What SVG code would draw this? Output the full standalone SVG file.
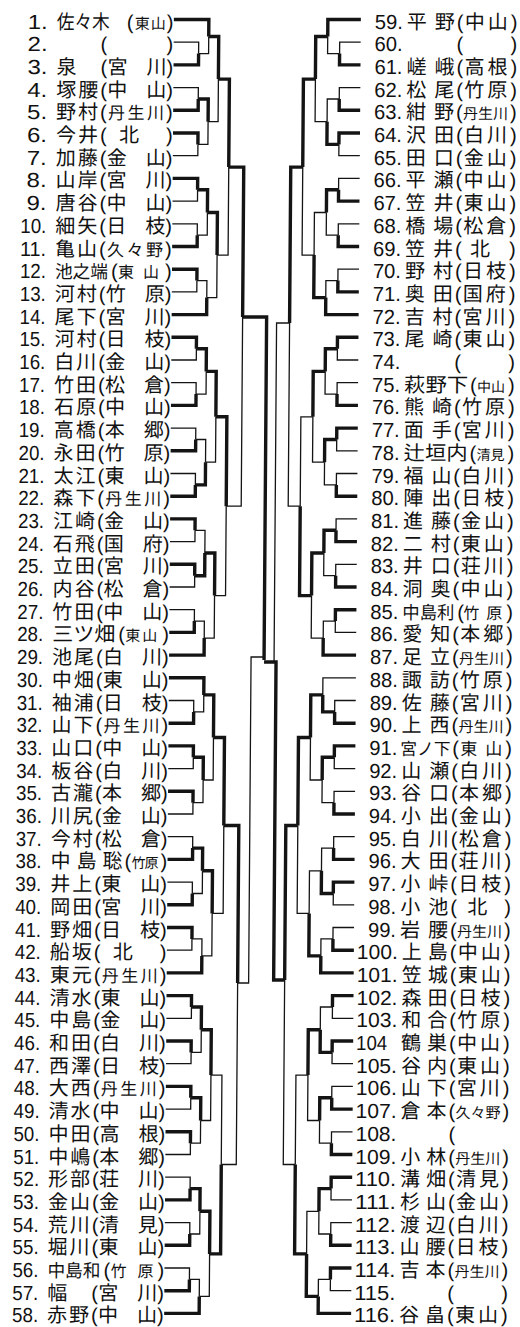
<svg xmlns="http://www.w3.org/2000/svg" width="520" height="1327" viewBox="0 0 520 1327">
<style>
.t{font-family:"Liberation Sans","Noto Sans CJK JP","Noto Sans CJK SC",sans-serif;font-size:20px;fill:#111}
.n{font-size:20.3px}
.s18{font-size:18px}.s17{font-size:17px}.s16{font-size:16px}.s15{font-size:15px}.s14{font-size:14px}
.w{fill:none;stroke:#141414;stroke-width:3.4}
.l{fill:none;stroke:#141414;stroke-width:1.3}
</style>
<rect width="520" height="1327" fill="#fff"/>
<g transform="matrix(1 0 -0.0075 1 0 0)">
<g id="entries-left">
<g id="e1" transform="translate(0 19.5)"><text class="t" y="9"><tspan class="n" x="28" textLength="20" lengthAdjust="spacingAndGlyphs">1.</tspan><tspan x="57" textLength="53" lengthAdjust="spacingAndGlyphs">佐々木</tspan><tspan x="127">(</tspan><tspan class="s15" x="135" textLength="31">東山</tspan><tspan x="167">)</tspan></text></g>
<g id="e2" transform="translate(0 42.2)"><text class="t" y="9"><tspan class="n" x="28" textLength="20" lengthAdjust="spacingAndGlyphs">2.</tspan><tspan x="101">(</tspan><tspan x="167">)</tspan></text></g>
<g id="e3" transform="translate(0 64.9)"><text class="t" y="9"><tspan class="n" x="28" textLength="20" lengthAdjust="spacingAndGlyphs">3.</tspan><tspan x="57">泉</tspan><tspan x="101">(</tspan><tspan x="108" textLength="59">宮川</tspan><tspan x="167">)</tspan></text></g>
<g id="e4" transform="translate(0 87.6)"><text class="t" y="9"><tspan class="n" x="28" textLength="20" lengthAdjust="spacingAndGlyphs">4.</tspan><tspan x="57" textLength="42">塚腰</tspan><tspan x="101">(</tspan><tspan x="108" textLength="59">中山</tspan><tspan x="167">)</tspan></text></g>
<g id="e5" transform="translate(0 110.3)"><text class="t" y="9"><tspan class="n" x="28" textLength="20" lengthAdjust="spacingAndGlyphs">5.</tspan><tspan x="57" textLength="42">野村</tspan><tspan x="101">(</tspan><tspan class="s17" x="109" textLength="56">丹生川</tspan><tspan x="167">)</tspan></text></g>
<g id="e6" transform="translate(0 133)"><text class="t" y="9"><tspan class="n" x="28" textLength="20" lengthAdjust="spacingAndGlyphs">6.</tspan><tspan x="57" textLength="42">今井</tspan><tspan x="101">(</tspan><tspan x="120">北</tspan><tspan x="167">)</tspan></text></g>
<g id="e7" transform="translate(0 155.7)"><text class="t" y="9"><tspan class="n" x="28" textLength="20" lengthAdjust="spacingAndGlyphs">7.</tspan><tspan x="57" textLength="42">加藤</tspan><tspan x="101">(</tspan><tspan x="108" textLength="59">金山</tspan><tspan x="167">)</tspan></text></g>
<g id="e8" transform="translate(0 178.4)"><text class="t" y="9"><tspan class="n" x="28" textLength="20" lengthAdjust="spacingAndGlyphs">8.</tspan><tspan x="57" textLength="42">山岸</tspan><tspan x="101">(</tspan><tspan x="108" textLength="59">宮川</tspan><tspan x="167">)</tspan></text></g>
<g id="e9" transform="translate(0 201.1)"><text class="t" y="9"><tspan class="n" x="28" textLength="20" lengthAdjust="spacingAndGlyphs">9.</tspan><tspan x="57" textLength="42">唐谷</tspan><tspan x="101">(</tspan><tspan x="108" textLength="59">中山</tspan><tspan x="167">)</tspan></text></g>
<g id="e10" transform="translate(0 223.8)"><text class="t" y="9"><tspan class="n" x="22" textLength="26" lengthAdjust="spacingAndGlyphs">10.</tspan><tspan x="57" textLength="42">細矢</tspan><tspan x="101">(</tspan><tspan x="108" textLength="59">日枝</tspan><tspan x="167">)</tspan></text></g>
<g id="e11" transform="translate(0 246.5)"><text class="t" y="9"><tspan class="n" x="22" textLength="26" lengthAdjust="spacingAndGlyphs">11.</tspan><tspan x="57" textLength="42">亀山</tspan><tspan x="101">(</tspan><tspan class="s17" x="109" textLength="56">久々野</tspan><tspan x="167">)</tspan></text></g>
<g id="e12" transform="translate(0 269.2)"><text class="t" y="9"><tspan class="n" x="22" textLength="26" lengthAdjust="spacingAndGlyphs">12.</tspan><tspan class="s18" x="57" textLength="53" lengthAdjust="spacingAndGlyphs">池之端</tspan><tspan x="113">(</tspan><tspan class="s16" x="120" textLength="41">東山</tspan><tspan x="167">)</tspan></text></g>
<g id="e13" transform="translate(0 291.9)"><text class="t" y="9"><tspan class="n" x="22" textLength="26" lengthAdjust="spacingAndGlyphs">13.</tspan><tspan x="57" textLength="42">河村</tspan><tspan x="101">(</tspan><tspan x="108" textLength="59">竹原</tspan><tspan x="167">)</tspan></text></g>
<g id="e14" transform="translate(0 314.6)"><text class="t" y="9"><tspan class="n" x="22" textLength="26" lengthAdjust="spacingAndGlyphs">14.</tspan><tspan x="57" textLength="42">尾下</tspan><tspan x="101">(</tspan><tspan x="108" textLength="59">宮川</tspan><tspan x="167">)</tspan></text></g>
<g id="e15" transform="translate(0 337.3)"><text class="t" y="9"><tspan class="n" x="22" textLength="26" lengthAdjust="spacingAndGlyphs">15.</tspan><tspan x="57" textLength="42">河村</tspan><tspan x="101">(</tspan><tspan x="108" textLength="59">日枝</tspan><tspan x="167">)</tspan></text></g>
<g id="e16" transform="translate(0 360)"><text class="t" y="9"><tspan class="n" x="22" textLength="26" lengthAdjust="spacingAndGlyphs">16.</tspan><tspan x="57" textLength="42">白川</tspan><tspan x="101">(</tspan><tspan x="108" textLength="59">金山</tspan><tspan x="167">)</tspan></text></g>
<g id="e17" transform="translate(0 382.7)"><text class="t" y="9"><tspan class="n" x="22" textLength="26" lengthAdjust="spacingAndGlyphs">17.</tspan><tspan x="57" textLength="42">竹田</tspan><tspan x="101">(</tspan><tspan x="108" textLength="59">松倉</tspan><tspan x="167">)</tspan></text></g>
<g id="e18" transform="translate(0 405.4)"><text class="t" y="9"><tspan class="n" x="22" textLength="26" lengthAdjust="spacingAndGlyphs">18.</tspan><tspan x="57" textLength="42">石原</tspan><tspan x="101">(</tspan><tspan x="108" textLength="59">中山</tspan><tspan x="167">)</tspan></text></g>
<g id="e19" transform="translate(0 428.1)"><text class="t" y="9"><tspan class="n" x="22" textLength="26" lengthAdjust="spacingAndGlyphs">19.</tspan><tspan x="57" textLength="42">高橋</tspan><tspan x="101">(</tspan><tspan x="108" textLength="59">本郷</tspan><tspan x="167">)</tspan></text></g>
<g id="e20" transform="translate(0 450.8)"><text class="t" y="9"><tspan class="n" x="22" textLength="26" lengthAdjust="spacingAndGlyphs">20.</tspan><tspan x="57" textLength="42">永田</tspan><tspan x="101">(</tspan><tspan x="108" textLength="59">竹原</tspan><tspan x="167">)</tspan></text></g>
<g id="e21" transform="translate(0 473.5)"><text class="t" y="9"><tspan class="n" x="22" textLength="26" lengthAdjust="spacingAndGlyphs">21.</tspan><tspan x="57" textLength="42">太江</tspan><tspan x="101">(</tspan><tspan x="108" textLength="59">東山</tspan><tspan x="167">)</tspan></text></g>
<g id="e22" transform="translate(0 496.2)"><text class="t" y="9"><tspan class="n" x="22" textLength="26" lengthAdjust="spacingAndGlyphs">22.</tspan><tspan x="57" textLength="42">森下</tspan><tspan x="101">(</tspan><tspan class="s17" x="109" textLength="56">丹生川</tspan><tspan x="167">)</tspan></text></g>
<g id="e23" transform="translate(0 518.9)"><text class="t" y="9"><tspan class="n" x="22" textLength="26" lengthAdjust="spacingAndGlyphs">23.</tspan><tspan x="57" textLength="42">江崎</tspan><tspan x="101">(</tspan><tspan x="108" textLength="59">金山</tspan><tspan x="167">)</tspan></text></g>
<g id="e24" transform="translate(0 541.6)"><text class="t" y="9"><tspan class="n" x="22" textLength="26" lengthAdjust="spacingAndGlyphs">24.</tspan><tspan x="57" textLength="42">石飛</tspan><tspan x="101">(</tspan><tspan x="108" textLength="59">国府</tspan><tspan x="167">)</tspan></text></g>
<g id="e25" transform="translate(0 564.3)"><text class="t" y="9"><tspan class="n" x="22" textLength="26" lengthAdjust="spacingAndGlyphs">25.</tspan><tspan x="57" textLength="42">立田</tspan><tspan x="101">(</tspan><tspan x="108" textLength="59">宮川</tspan><tspan x="167">)</tspan></text></g>
<g id="e26" transform="translate(0 587)"><text class="t" y="9"><tspan class="n" x="22" textLength="26" lengthAdjust="spacingAndGlyphs">26.</tspan><tspan x="57" textLength="42">内谷</tspan><tspan x="101">(</tspan><tspan x="108" textLength="59">松倉</tspan><tspan x="167">)</tspan></text></g>
<g id="e27" transform="translate(0 609.7)"><text class="t" y="9"><tspan class="n" x="22" textLength="26" lengthAdjust="spacingAndGlyphs">27.</tspan><tspan x="57" textLength="42">竹田</tspan><tspan x="101">(</tspan><tspan x="108" textLength="59">中山</tspan><tspan x="167">)</tspan></text></g>
<g id="e28" transform="translate(0 632.4)"><text class="t" y="9"><tspan class="n" x="22" textLength="26" lengthAdjust="spacingAndGlyphs">28.</tspan><tspan x="57" textLength="63" lengthAdjust="spacingAndGlyphs">三ツ畑</tspan><tspan x="123">(</tspan><tspan class="s15" x="130" textLength="32">東山</tspan><tspan x="167">)</tspan></text></g>
<g id="e29" transform="translate(0 655.1)"><text class="t" y="9"><tspan class="n" x="22" textLength="26" lengthAdjust="spacingAndGlyphs">29.</tspan><tspan x="57" textLength="42">池尾</tspan><tspan x="101">(</tspan><tspan x="108" textLength="59">白川</tspan><tspan x="167">)</tspan></text></g>
<g id="e30" transform="translate(0 677.8)"><text class="t" y="9"><tspan class="n" x="22" textLength="26" lengthAdjust="spacingAndGlyphs">30.</tspan><tspan x="57" textLength="42">中畑</tspan><tspan x="101">(</tspan><tspan x="108" textLength="59">東山</tspan><tspan x="167">)</tspan></text></g>
<g id="e31" transform="translate(0 700.5)"><text class="t" y="9"><tspan class="n" x="22" textLength="26" lengthAdjust="spacingAndGlyphs">31.</tspan><tspan x="57" textLength="42">袖浦</tspan><tspan x="101">(</tspan><tspan x="108" textLength="59">日枝</tspan><tspan x="167">)</tspan></text></g>
<g id="e32" transform="translate(0 723.2)"><text class="t" y="9"><tspan class="n" x="22" textLength="26" lengthAdjust="spacingAndGlyphs">32.</tspan><tspan x="57" textLength="42">山下</tspan><tspan x="101">(</tspan><tspan class="s17" x="109" textLength="56">丹生川</tspan><tspan x="167">)</tspan></text></g>
<g id="e33" transform="translate(0 745.9)"><text class="t" y="9"><tspan class="n" x="22" textLength="26" lengthAdjust="spacingAndGlyphs">33.</tspan><tspan x="57" textLength="42">山口</tspan><tspan x="101">(</tspan><tspan x="108" textLength="59">中山</tspan><tspan x="167">)</tspan></text></g>
<g id="e34" transform="translate(0 768.6)"><text class="t" y="9"><tspan class="n" x="22" textLength="26" lengthAdjust="spacingAndGlyphs">34.</tspan><tspan x="57" textLength="42">板谷</tspan><tspan x="101">(</tspan><tspan x="108" textLength="59">白川</tspan><tspan x="167">)</tspan></text></g>
<g id="e35" transform="translate(0 791.3)"><text class="t" y="9"><tspan class="n" x="22" textLength="26" lengthAdjust="spacingAndGlyphs">35.</tspan><tspan x="57" textLength="42">古瀧</tspan><tspan x="101">(</tspan><tspan x="108" textLength="59">本郷</tspan><tspan x="167">)</tspan></text></g>
<g id="e36" transform="translate(0 814)"><text class="t" y="9"><tspan class="n" x="22" textLength="26" lengthAdjust="spacingAndGlyphs">36.</tspan><tspan x="57" textLength="42">川尻</tspan><tspan x="101">(</tspan><tspan x="108" textLength="59">金山</tspan><tspan x="167">)</tspan></text></g>
<g id="e37" transform="translate(0 836.7)"><text class="t" y="9"><tspan class="n" x="22" textLength="26" lengthAdjust="spacingAndGlyphs">37.</tspan><tspan x="57" textLength="42">今村</tspan><tspan x="101">(</tspan><tspan x="108" textLength="59">松倉</tspan><tspan x="167">)</tspan></text></g>
<g id="e38" transform="translate(0 859.4)"><text class="t" y="9"><tspan class="n" x="22" textLength="26" lengthAdjust="spacingAndGlyphs">38.</tspan><tspan x="57" textLength="72">中島聡</tspan><tspan x="131">(</tspan><tspan class="s14" x="138" textLength="27">竹原</tspan><tspan x="167">)</tspan></text></g>
<g id="e39" transform="translate(0 882.1)"><text class="t" y="9"><tspan class="n" x="22" textLength="26" lengthAdjust="spacingAndGlyphs">39.</tspan><tspan x="57" textLength="42">井上</tspan><tspan x="101">(</tspan><tspan x="108" textLength="59">東山</tspan><tspan x="167">)</tspan></text></g>
<g id="e40" transform="translate(0 904.8)"><text class="t" y="9"><tspan class="n" x="22" textLength="26" lengthAdjust="spacingAndGlyphs">40.</tspan><tspan x="57" textLength="42">岡田</tspan><tspan x="101">(</tspan><tspan x="108" textLength="59">宮川</tspan><tspan x="167">)</tspan></text></g>
<g id="e41" transform="translate(0 927.5)"><text class="t" y="9"><tspan class="n" x="22" textLength="26" lengthAdjust="spacingAndGlyphs">41.</tspan><tspan x="57" textLength="42">野畑</tspan><tspan x="101">(</tspan><tspan x="108" textLength="59">日枝</tspan><tspan x="167">)</tspan></text></g>
<g id="e42" transform="translate(0 950.2)"><text class="t" y="9"><tspan class="n" x="22" textLength="26" lengthAdjust="spacingAndGlyphs">42.</tspan><tspan x="57" textLength="42">船坂</tspan><tspan x="101">(</tspan><tspan x="120">北</tspan><tspan x="167">)</tspan></text></g>
<g id="e43" transform="translate(0 972.9)"><text class="t" y="9"><tspan class="n" x="22" textLength="26" lengthAdjust="spacingAndGlyphs">43.</tspan><tspan x="57" textLength="42">東元</tspan><tspan x="101">(</tspan><tspan class="s17" x="109" textLength="56">丹生川</tspan><tspan x="167">)</tspan></text></g>
<g id="e44" transform="translate(0 995.6)"><text class="t" y="9"><tspan class="n" x="22" textLength="26" lengthAdjust="spacingAndGlyphs">44.</tspan><tspan x="57" textLength="42">清水</tspan><tspan x="101">(</tspan><tspan x="108" textLength="59">東山</tspan><tspan x="167">)</tspan></text></g>
<g id="e45" transform="translate(0 1018.3)"><text class="t" y="9"><tspan class="n" x="22" textLength="26" lengthAdjust="spacingAndGlyphs">45.</tspan><tspan x="57" textLength="42">中島</tspan><tspan x="101">(</tspan><tspan x="108" textLength="59">金山</tspan><tspan x="167">)</tspan></text></g>
<g id="e46" transform="translate(0 1041)"><text class="t" y="9"><tspan class="n" x="22" textLength="26" lengthAdjust="spacingAndGlyphs">46.</tspan><tspan x="57" textLength="42">和田</tspan><tspan x="101">(</tspan><tspan x="108" textLength="59">白川</tspan><tspan x="167">)</tspan></text></g>
<g id="e47" transform="translate(0 1063.7)"><text class="t" y="9"><tspan class="n" x="22" textLength="26" lengthAdjust="spacingAndGlyphs">47.</tspan><tspan x="57" textLength="42">西澤</tspan><tspan x="101">(</tspan><tspan x="108" textLength="59">日枝</tspan><tspan x="167">)</tspan></text></g>
<g id="e48" transform="translate(0 1086.4)"><text class="t" y="9"><tspan class="n" x="22" textLength="26" lengthAdjust="spacingAndGlyphs">48.</tspan><tspan x="57" textLength="42">大西</tspan><tspan x="101">(</tspan><tspan class="s17" x="109" textLength="56">丹生川</tspan><tspan x="167">)</tspan></text></g>
<g id="e49" transform="translate(0 1109.1)"><text class="t" y="9"><tspan class="n" x="22" textLength="26" lengthAdjust="spacingAndGlyphs">49.</tspan><tspan x="57" textLength="42">清水</tspan><tspan x="101">(</tspan><tspan x="108" textLength="59">中山</tspan><tspan x="167">)</tspan></text></g>
<g id="e50" transform="translate(0 1131.8)"><text class="t" y="9"><tspan class="n" x="22" textLength="26" lengthAdjust="spacingAndGlyphs">50.</tspan><tspan x="57" textLength="42">中田</tspan><tspan x="101">(</tspan><tspan x="108" textLength="59">高根</tspan><tspan x="167">)</tspan></text></g>
<g id="e51" transform="translate(0 1154.5)"><text class="t" y="9"><tspan class="n" x="22" textLength="26" lengthAdjust="spacingAndGlyphs">51.</tspan><tspan x="57" textLength="42">中嶋</tspan><tspan x="101">(</tspan><tspan x="108" textLength="59">本郷</tspan><tspan x="167">)</tspan></text></g>
<g id="e52" transform="translate(0 1177.2)"><text class="t" y="9"><tspan class="n" x="22" textLength="26" lengthAdjust="spacingAndGlyphs">52.</tspan><tspan x="57" textLength="42">形部</tspan><tspan x="101">(</tspan><tspan x="108" textLength="59">荘川</tspan><tspan x="167">)</tspan></text></g>
<g id="e53" transform="translate(0 1199.9)"><text class="t" y="9"><tspan class="n" x="22" textLength="26" lengthAdjust="spacingAndGlyphs">53.</tspan><tspan x="57" textLength="42">金山</tspan><tspan x="101">(</tspan><tspan x="108" textLength="59">金山</tspan><tspan x="167">)</tspan></text></g>
<g id="e54" transform="translate(0 1222.6)"><text class="t" y="9"><tspan class="n" x="22" textLength="26" lengthAdjust="spacingAndGlyphs">54.</tspan><tspan x="57" textLength="42">荒川</tspan><tspan x="101">(</tspan><tspan x="108" textLength="59">清見</tspan><tspan x="167">)</tspan></text></g>
<g id="e55" transform="translate(0 1245.3)"><text class="t" y="9"><tspan class="n" x="22" textLength="26" lengthAdjust="spacingAndGlyphs">55.</tspan><tspan x="57" textLength="42">堀川</tspan><tspan x="101">(</tspan><tspan x="108" textLength="59">東山</tspan><tspan x="167">)</tspan></text></g>
<g id="e56" transform="translate(0 1268)"><text class="t" y="9"><tspan class="n" x="22" textLength="26" lengthAdjust="spacingAndGlyphs">56.</tspan><tspan class="s18" x="57" textLength="53" lengthAdjust="spacingAndGlyphs">中島和</tspan><tspan x="113">(</tspan><tspan class="s16" x="120" textLength="43">竹原</tspan><tspan x="167">)</tspan></text></g>
<g id="e57" transform="translate(0 1290.7)"><text class="t" y="9"><tspan class="n" x="22" textLength="26" lengthAdjust="spacingAndGlyphs">57.</tspan><tspan x="57">幅</tspan><tspan x="101">(</tspan><tspan x="108" textLength="59">宮川</tspan><tspan x="167">)</tspan></text></g>
<g id="e58" transform="translate(0 1313.4)"><text class="t" y="9"><tspan class="n" x="22" textLength="26" lengthAdjust="spacingAndGlyphs">58.</tspan><tspan x="57" textLength="42">赤野</tspan><tspan x="101">(</tspan><tspan x="108" textLength="59">中山</tspan><tspan x="167">)</tspan></text></g>
</g>
<g id="entries-right">
<g id="e59" transform="translate(0 19.5)"><text class="t" y="9"><tspan class="n" x="375" textLength="28" lengthAdjust="spacingAndGlyphs">59.</tspan><tspan x="407" textLength="48">平野</tspan><tspan x="457">(</tspan><tspan x="465" textLength="43">中山</tspan><tspan x="511">)</tspan></text></g>
<g id="e60" transform="translate(0 42.2)"><text class="t" y="9"><tspan class="n" x="375" textLength="28" lengthAdjust="spacingAndGlyphs">60.</tspan><tspan x="457">(</tspan><tspan x="511">)</tspan></text></g>
<g id="e61" transform="translate(0 64.9)"><text class="t" y="9"><tspan class="n" x="375" textLength="28" lengthAdjust="spacingAndGlyphs">61.</tspan><tspan x="407" textLength="48">嵯峨</tspan><tspan x="457">(</tspan><tspan x="465" textLength="43">高根</tspan><tspan x="511">)</tspan></text></g>
<g id="e62" transform="translate(0 87.6)"><text class="t" y="9"><tspan class="n" x="375" textLength="28" lengthAdjust="spacingAndGlyphs">62.</tspan><tspan x="407" textLength="48">松尾</tspan><tspan x="457">(</tspan><tspan x="465" textLength="43">竹原</tspan><tspan x="511">)</tspan></text></g>
<g id="e63" transform="translate(0 110.3)"><text class="t" y="9"><tspan class="n" x="375" textLength="28" lengthAdjust="spacingAndGlyphs">63.</tspan><tspan x="407" textLength="48">紺野</tspan><tspan x="457">(</tspan><tspan class="s15" x="464" textLength="45">丹生川</tspan><tspan x="511">)</tspan></text></g>
<g id="e64" transform="translate(0 133)"><text class="t" y="9"><tspan class="n" x="375" textLength="28" lengthAdjust="spacingAndGlyphs">64.</tspan><tspan x="407" textLength="48">沢田</tspan><tspan x="457">(</tspan><tspan x="465" textLength="43">白川</tspan><tspan x="511">)</tspan></text></g>
<g id="e65" transform="translate(0 155.7)"><text class="t" y="9"><tspan class="n" x="375" textLength="28" lengthAdjust="spacingAndGlyphs">65.</tspan><tspan x="407" textLength="48">田口</tspan><tspan x="457">(</tspan><tspan x="465" textLength="43">金山</tspan><tspan x="511">)</tspan></text></g>
<g id="e66" transform="translate(0 178.4)"><text class="t" y="9"><tspan class="n" x="375" textLength="28" lengthAdjust="spacingAndGlyphs">66.</tspan><tspan x="407" textLength="48">平瀬</tspan><tspan x="457">(</tspan><tspan x="465" textLength="43">中山</tspan><tspan x="511">)</tspan></text></g>
<g id="e67" transform="translate(0 201.1)"><text class="t" y="9"><tspan class="n" x="375" textLength="28" lengthAdjust="spacingAndGlyphs">67.</tspan><tspan x="407" textLength="48">笠井</tspan><tspan x="457">(</tspan><tspan x="465" textLength="43">東山</tspan><tspan x="511">)</tspan></text></g>
<g id="e68" transform="translate(0 223.8)"><text class="t" y="9"><tspan class="n" x="375" textLength="28" lengthAdjust="spacingAndGlyphs">68.</tspan><tspan x="407" textLength="48">橋場</tspan><tspan x="457">(</tspan><tspan x="465" textLength="43">松倉</tspan><tspan x="511">)</tspan></text></g>
<g id="e69" transform="translate(0 246.5)"><text class="t" y="9"><tspan class="n" x="375" textLength="28" lengthAdjust="spacingAndGlyphs">69.</tspan><tspan x="407" textLength="48">笠井</tspan><tspan x="457">(</tspan><tspan x="472">北</tspan><tspan x="511">)</tspan></text></g>
<g id="e70" transform="translate(0 269.2)"><text class="t" y="9"><tspan class="n" x="375" textLength="28" lengthAdjust="spacingAndGlyphs">70.</tspan><tspan x="407" textLength="48">野村</tspan><tspan x="457">(</tspan><tspan x="465" textLength="43">日枝</tspan><tspan x="511">)</tspan></text></g>
<g id="e71" transform="translate(0 291.9)"><text class="t" y="9"><tspan class="n" x="375" textLength="28" lengthAdjust="spacingAndGlyphs">71.</tspan><tspan x="407" textLength="48">奥田</tspan><tspan x="457">(</tspan><tspan x="465" textLength="43">国府</tspan><tspan x="511">)</tspan></text></g>
<g id="e72" transform="translate(0 314.6)"><text class="t" y="9"><tspan class="n" x="375" textLength="28" lengthAdjust="spacingAndGlyphs">72.</tspan><tspan x="407" textLength="48">吉村</tspan><tspan x="457">(</tspan><tspan x="465" textLength="43">宮川</tspan><tspan x="511">)</tspan></text></g>
<g id="e73" transform="translate(0 337.3)"><text class="t" y="9"><tspan class="n" x="375" textLength="28" lengthAdjust="spacingAndGlyphs">73.</tspan><tspan x="407" textLength="48">尾崎</tspan><tspan x="457">(</tspan><tspan x="465" textLength="43">東山</tspan><tspan x="511">)</tspan></text></g>
<g id="e74" transform="translate(0 360)"><text class="t" y="9"><tspan class="n" x="375" textLength="28" lengthAdjust="spacingAndGlyphs">74.</tspan><tspan x="457">(</tspan><tspan x="511">)</tspan></text></g>
<g id="e75" transform="translate(0 382.7)"><text class="t" y="9"><tspan class="n" x="375" textLength="28" lengthAdjust="spacingAndGlyphs">75.</tspan><tspan x="407" textLength="64" lengthAdjust="spacingAndGlyphs">萩野下</tspan><tspan x="473">(</tspan><tspan class="s14" x="480" textLength="28">中山</tspan><tspan x="511">)</tspan></text></g>
<g id="e76" transform="translate(0 405.4)"><text class="t" y="9"><tspan class="n" x="375" textLength="28" lengthAdjust="spacingAndGlyphs">76.</tspan><tspan x="407" textLength="48">熊崎</tspan><tspan x="457">(</tspan><tspan x="465" textLength="43">竹原</tspan><tspan x="511">)</tspan></text></g>
<g id="e77" transform="translate(0 428.1)"><text class="t" y="9"><tspan class="n" x="375" textLength="28" lengthAdjust="spacingAndGlyphs">77.</tspan><tspan x="407" textLength="48">面手</tspan><tspan x="457">(</tspan><tspan x="465" textLength="43">宮川</tspan><tspan x="511">)</tspan></text></g>
<g id="e78" transform="translate(0 450.8)"><text class="t" y="9"><tspan class="n" x="375" textLength="28" lengthAdjust="spacingAndGlyphs">78.</tspan><tspan x="407" textLength="64" lengthAdjust="spacingAndGlyphs">辻垣内</tspan><tspan x="473">(</tspan><tspan class="s14" x="480" textLength="28">清見</tspan><tspan x="511">)</tspan></text></g>
<g id="e79" transform="translate(0 473.5)"><text class="t" y="9"><tspan class="n" x="375" textLength="28" lengthAdjust="spacingAndGlyphs">79.</tspan><tspan x="407" textLength="48">福山</tspan><tspan x="457">(</tspan><tspan x="465" textLength="43">白川</tspan><tspan x="511">)</tspan></text></g>
<g id="e80" transform="translate(0 496.2)"><text class="t" y="9"><tspan class="n" x="375" textLength="28" lengthAdjust="spacingAndGlyphs">80.</tspan><tspan x="407" textLength="48">陣出</tspan><tspan x="457">(</tspan><tspan x="465" textLength="43">日枝</tspan><tspan x="511">)</tspan></text></g>
<g id="e81" transform="translate(0 518.9)"><text class="t" y="9"><tspan class="n" x="375" textLength="28" lengthAdjust="spacingAndGlyphs">81.</tspan><tspan x="407" textLength="48">進藤</tspan><tspan x="457">(</tspan><tspan x="465" textLength="43">金山</tspan><tspan x="511">)</tspan></text></g>
<g id="e82" transform="translate(0 541.6)"><text class="t" y="9"><tspan class="n" x="375" textLength="28" lengthAdjust="spacingAndGlyphs">82.</tspan><tspan x="407" textLength="48">二村</tspan><tspan x="457">(</tspan><tspan x="465" textLength="43">東山</tspan><tspan x="511">)</tspan></text></g>
<g id="e83" transform="translate(0 564.3)"><text class="t" y="9"><tspan class="n" x="375" textLength="28" lengthAdjust="spacingAndGlyphs">83.</tspan><tspan x="407" textLength="48">井口</tspan><tspan x="457">(</tspan><tspan x="465" textLength="43">荘川</tspan><tspan x="511">)</tspan></text></g>
<g id="e84" transform="translate(0 587)"><text class="t" y="9"><tspan class="n" x="375" textLength="28" lengthAdjust="spacingAndGlyphs">84.</tspan><tspan x="407" textLength="48">洞奥</tspan><tspan x="457">(</tspan><tspan x="465" textLength="43">中山</tspan><tspan x="511">)</tspan></text></g>
<g id="e85" transform="translate(0 609.7)"><text class="t" y="9"><tspan class="n" x="375" textLength="28" lengthAdjust="spacingAndGlyphs">85.</tspan><tspan class="s18" x="407" textLength="52" lengthAdjust="spacingAndGlyphs">中島利</tspan><tspan x="462">(</tspan><tspan class="s16" x="468" textLength="39">竹原</tspan><tspan x="511">)</tspan></text></g>
<g id="e86" transform="translate(0 632.4)"><text class="t" y="9"><tspan class="n" x="375" textLength="28" lengthAdjust="spacingAndGlyphs">86.</tspan><tspan x="407" textLength="48">愛知</tspan><tspan x="457">(</tspan><tspan x="465" textLength="43">本郷</tspan><tspan x="511">)</tspan></text></g>
<g id="e87" transform="translate(0 655.1)"><text class="t" y="9"><tspan class="n" x="375" textLength="28" lengthAdjust="spacingAndGlyphs">87.</tspan><tspan x="407" textLength="48">足立</tspan><tspan x="457">(</tspan><tspan class="s15" x="464" textLength="45">丹生川</tspan><tspan x="511">)</tspan></text></g>
<g id="e88" transform="translate(0 677.8)"><text class="t" y="9"><tspan class="n" x="375" textLength="28" lengthAdjust="spacingAndGlyphs">88.</tspan><tspan x="407" textLength="48">諏訪</tspan><tspan x="457">(</tspan><tspan x="465" textLength="43">竹原</tspan><tspan x="511">)</tspan></text></g>
<g id="e89" transform="translate(0 700.5)"><text class="t" y="9"><tspan class="n" x="375" textLength="28" lengthAdjust="spacingAndGlyphs">89.</tspan><tspan x="407" textLength="48">佐藤</tspan><tspan x="457">(</tspan><tspan x="465" textLength="43">宮川</tspan><tspan x="511">)</tspan></text></g>
<g id="e90" transform="translate(0 723.2)"><text class="t" y="9"><tspan class="n" x="375" textLength="28" lengthAdjust="spacingAndGlyphs">90.</tspan><tspan x="407" textLength="48">上西</tspan><tspan x="457">(</tspan><tspan class="s15" x="464" textLength="45">丹生川</tspan><tspan x="511">)</tspan></text></g>
<g id="e91" transform="translate(0 745.9)"><text class="t" y="9"><tspan class="n" x="375" textLength="28" lengthAdjust="spacingAndGlyphs">91.</tspan><tspan class="s17" x="406" textLength="50" lengthAdjust="spacingAndGlyphs">宮ノ下</tspan><tspan x="458">(</tspan><tspan class="s17" x="466" textLength="42">東山</tspan><tspan x="511">)</tspan></text></g>
<g id="e92" transform="translate(0 768.6)"><text class="t" y="9"><tspan class="n" x="375" textLength="28" lengthAdjust="spacingAndGlyphs">92.</tspan><tspan x="407" textLength="48">山瀬</tspan><tspan x="457">(</tspan><tspan x="465" textLength="43">白川</tspan><tspan x="511">)</tspan></text></g>
<g id="e93" transform="translate(0 791.3)"><text class="t" y="9"><tspan class="n" x="375" textLength="28" lengthAdjust="spacingAndGlyphs">93.</tspan><tspan x="407" textLength="48">谷口</tspan><tspan x="457">(</tspan><tspan x="465" textLength="43">本郷</tspan><tspan x="511">)</tspan></text></g>
<g id="e94" transform="translate(0 814)"><text class="t" y="9"><tspan class="n" x="375" textLength="28" lengthAdjust="spacingAndGlyphs">94.</tspan><tspan x="407" textLength="48">小出</tspan><tspan x="457">(</tspan><tspan x="465" textLength="43">金山</tspan><tspan x="511">)</tspan></text></g>
<g id="e95" transform="translate(0 836.7)"><text class="t" y="9"><tspan class="n" x="375" textLength="28" lengthAdjust="spacingAndGlyphs">95.</tspan><tspan x="407" textLength="48">白川</tspan><tspan x="457">(</tspan><tspan x="465" textLength="43">松倉</tspan><tspan x="511">)</tspan></text></g>
<g id="e96" transform="translate(0 859.4)"><text class="t" y="9"><tspan class="n" x="375" textLength="28" lengthAdjust="spacingAndGlyphs">96.</tspan><tspan x="407" textLength="48">大田</tspan><tspan x="457">(</tspan><tspan x="465" textLength="43">荘川</tspan><tspan x="511">)</tspan></text></g>
<g id="e97" transform="translate(0 882.1)"><text class="t" y="9"><tspan class="n" x="375" textLength="28" lengthAdjust="spacingAndGlyphs">97.</tspan><tspan x="407" textLength="48">小峠</tspan><tspan x="457">(</tspan><tspan x="465" textLength="43">日枝</tspan><tspan x="511">)</tspan></text></g>
<g id="e98" transform="translate(0 904.8)"><text class="t" y="9"><tspan class="n" x="375" textLength="28" lengthAdjust="spacingAndGlyphs">98.</tspan><tspan x="407" textLength="48">小池</tspan><tspan x="457">(</tspan><tspan x="474">北</tspan><tspan x="511">)</tspan></text></g>
<g id="e99" transform="translate(0 927.5)"><text class="t" y="9"><tspan class="n" x="375" textLength="28" lengthAdjust="spacingAndGlyphs">99.</tspan><tspan x="407" textLength="48">岩腰</tspan><tspan x="457">(</tspan><tspan class="s15" x="464" textLength="45">丹生川</tspan><tspan x="511">)</tspan></text></g>
<g id="e100" transform="translate(0 950.2)"><text class="t" y="9"><tspan class="n" x="364" textLength="41" lengthAdjust="spacingAndGlyphs">100.</tspan><tspan x="409" textLength="46">上島</tspan><tspan x="457">(</tspan><tspan x="465" textLength="43">中山</tspan><tspan x="511">)</tspan></text></g>
<g id="e101" transform="translate(0 972.9)"><text class="t" y="9"><tspan class="n" x="364" textLength="41" lengthAdjust="spacingAndGlyphs">101.</tspan><tspan x="409" textLength="46">笠城</tspan><tspan x="457">(</tspan><tspan x="465" textLength="43">東山</tspan><tspan x="511">)</tspan></text></g>
<g id="e102" transform="translate(0 995.6)"><text class="t" y="9"><tspan class="n" x="364" textLength="41" lengthAdjust="spacingAndGlyphs">102.</tspan><tspan x="409" textLength="46">森田</tspan><tspan x="457">(</tspan><tspan x="465" textLength="43">日枝</tspan><tspan x="511">)</tspan></text></g>
<g id="e103" transform="translate(0 1018.3)"><text class="t" y="9"><tspan class="n" x="364" textLength="41" lengthAdjust="spacingAndGlyphs">103.</tspan><tspan x="409" textLength="46">和合</tspan><tspan x="457">(</tspan><tspan x="465" textLength="43">竹原</tspan><tspan x="511">)</tspan></text></g>
<g id="e104" transform="translate(0 1041)"><text class="t" y="9"><tspan class="n" x="364" textLength="31" lengthAdjust="spacingAndGlyphs">104</tspan><tspan x="409" textLength="46">鶴巣</tspan><tspan x="457">(</tspan><tspan x="465" textLength="43">中山</tspan><tspan x="511">)</tspan></text></g>
<g id="e105" transform="translate(0 1063.7)"><text class="t" y="9"><tspan class="n" x="364" textLength="41" lengthAdjust="spacingAndGlyphs">105.</tspan><tspan x="409" textLength="46">谷内</tspan><tspan x="457">(</tspan><tspan x="465" textLength="43">東山</tspan><tspan x="511">)</tspan></text></g>
<g id="e106" transform="translate(0 1086.4)"><text class="t" y="9"><tspan class="n" x="364" textLength="41" lengthAdjust="spacingAndGlyphs">106.</tspan><tspan x="409" textLength="46">山下</tspan><tspan x="457">(</tspan><tspan x="465" textLength="43">宮川</tspan><tspan x="511">)</tspan></text></g>
<g id="e107" transform="translate(0 1109.1)"><text class="t" y="9"><tspan class="n" x="364" textLength="41" lengthAdjust="spacingAndGlyphs">107.</tspan><tspan x="409" textLength="46">倉本</tspan><tspan x="457">(</tspan><tspan class="s15" x="464" textLength="45">久々野</tspan><tspan x="511">)</tspan></text></g>
<g id="e108" transform="translate(0 1131.8)"><text class="t" y="9"><tspan class="n" x="364" textLength="41" lengthAdjust="spacingAndGlyphs">108.</tspan><tspan x="457">(</tspan></text></g>
<g id="e109" transform="translate(0 1154.5)"><text class="t" y="9"><tspan class="n" x="364" textLength="41" lengthAdjust="spacingAndGlyphs">109.</tspan><tspan x="409" textLength="46">小林</tspan><tspan x="457">(</tspan><tspan class="s15" x="464" textLength="45">丹生川</tspan><tspan x="511">)</tspan></text></g>
<g id="e110" transform="translate(0 1177.2)"><text class="t" y="9"><tspan class="n" x="364" textLength="41" lengthAdjust="spacingAndGlyphs">110.</tspan><tspan x="409" textLength="46">溝畑</tspan><tspan x="457">(</tspan><tspan x="465" textLength="43">清見</tspan><tspan x="511">)</tspan></text></g>
<g id="e111" transform="translate(0 1199.9)"><text class="t" y="9"><tspan class="n" x="364" textLength="41" lengthAdjust="spacingAndGlyphs">111.</tspan><tspan x="409" textLength="46">杉山</tspan><tspan x="457">(</tspan><tspan x="465" textLength="43">金山</tspan><tspan x="511">)</tspan></text></g>
<g id="e112" transform="translate(0 1222.6)"><text class="t" y="9"><tspan class="n" x="364" textLength="41" lengthAdjust="spacingAndGlyphs">112.</tspan><tspan x="409" textLength="46">渡辺</tspan><tspan x="457">(</tspan><tspan x="465" textLength="43">白川</tspan><tspan x="511">)</tspan></text></g>
<g id="e113" transform="translate(0 1245.3)"><text class="t" y="9"><tspan class="n" x="364" textLength="41" lengthAdjust="spacingAndGlyphs">113.</tspan><tspan x="409" textLength="46">山腰</tspan><tspan x="457">(</tspan><tspan x="465" textLength="43">日枝</tspan><tspan x="511">)</tspan></text></g>
<g id="e114" transform="translate(0 1268)"><text class="t" y="9"><tspan class="n" x="364" textLength="41" lengthAdjust="spacingAndGlyphs">114.</tspan><tspan x="409" textLength="46">吉本</tspan><tspan x="457">(</tspan><tspan class="s15" x="464" textLength="45">丹生川</tspan><tspan x="511">)</tspan></text></g>
<g id="e115" transform="translate(0 1290.7)"><text class="t" y="9"><tspan class="n" x="364" textLength="41" lengthAdjust="spacingAndGlyphs">115.</tspan><tspan x="457">(</tspan><tspan x="511">)</tspan></text></g>
<g id="e116" transform="translate(0 1313.4)"><text class="t" y="9"><tspan class="n" x="364" textLength="41" lengthAdjust="spacingAndGlyphs">116.</tspan><tspan x="409" textLength="46">谷畠</tspan><tspan x="457">(</tspan><tspan x="465" textLength="43">東山</tspan><tspan x="511">)</tspan></text></g>
</g>
<g id="connectors">
<path class="l" d="M174 42.2H199V53.6"/><path class="w" d="M174 64.9H199V53.6"/>
<path class="w" d="M174 19.5H209V36.5"/><path class="l" d="M199 53.6H209V36.5"/>
<path class="l" d="M174 87.6H199V99"/><path class="w" d="M174 110.3H199V99"/>
<path class="w" d="M174 133H199V144.4"/><path class="l" d="M174 155.7H199V144.4"/>
<path class="w" d="M199 99H209V121.7"/><path class="l" d="M199 144.4H209V121.7"/>
<path class="w" d="M209 36.5H219V79.1"/><path class="l" d="M209 121.7H219V79.1"/>
<path class="w" d="M174 178.4H199V189.8"/><path class="l" d="M174 201.1H199V189.8"/>
<path class="l" d="M174 223.8H199V235.2"/><path class="w" d="M174 246.5H199V235.2"/>
<path class="w" d="M199 189.8H209V212.5"/><path class="l" d="M199 235.2H209V212.5"/>
<path class="w" d="M174 269.2H199V280.6"/><path class="l" d="M174 291.9H199V280.6"/>
<path class="l" d="M199 280.6H209V297.6"/><path class="w" d="M174 314.6H209V297.6"/>
<path class="w" d="M209 212.5H219V255.1"/><path class="l" d="M209 297.6H219V255.1"/>
<path class="w" d="M219 79.1H230V167.1"/><path class="l" d="M219 255.1H230V167.1"/>
<path class="w" d="M174 337.3H199V348.7"/><path class="l" d="M174 360H199V348.7"/>
<path class="l" d="M174 382.7H199V394.1"/><path class="w" d="M174 405.4H199V394.1"/>
<path class="w" d="M199 348.7H209V371.4"/><path class="l" d="M199 394.1H209V371.4"/>
<path class="l" d="M174 428.1H199V439.5"/><path class="w" d="M174 450.8H199V439.5"/>
<path class="l" d="M174 473.5H199V484.9"/><path class="w" d="M174 496.2H199V484.9"/>
<path class="l" d="M199 439.5H209V462.2"/><path class="w" d="M199 484.9H209V462.2"/>
<path class="w" d="M209 371.4H219V416.8"/><path class="l" d="M209 462.2H219V416.8"/>
<path class="w" d="M174 518.9H199V530.3"/><path class="l" d="M174 541.6H199V530.3"/>
<path class="w" d="M174 564.3H199V575.7"/><path class="l" d="M174 587H199V575.7"/>
<path class="l" d="M199 530.3H209V553"/><path class="w" d="M199 575.7H209V553"/>
<path class="l" d="M174 609.7H199V621.1"/><path class="w" d="M174 632.4H199V621.1"/>
<path class="l" d="M199 621.1H209V638.1"/><path class="w" d="M174 655.1H209V638.1"/>
<path class="w" d="M209 553H219V595.6"/><path class="l" d="M209 638.1H219V595.6"/>
<path class="w" d="M219 416.8H230V506.2"/><path class="l" d="M219 595.6H230V506.2"/>
<path class="w" d="M230 167.1H245V317"/><path class="l" d="M230 506.2H245V317"/>
<path class="l" d="M174 700.5H199V711.9"/><path class="w" d="M174 723.2H199V711.9"/>
<path class="w" d="M174 677.8H209V694.9"/><path class="l" d="M199 711.9H209V694.9"/>
<path class="w" d="M174 745.9H199V757.3"/><path class="l" d="M174 768.6H199V757.3"/>
<path class="w" d="M174 791.3H199V802.7"/><path class="l" d="M174 814H199V802.7"/>
<path class="w" d="M199 757.3H209V780"/><path class="l" d="M199 802.7H209V780"/>
<path class="w" d="M209 694.9H219V737.5"/><path class="l" d="M209 780H219V737.5"/>
<path class="l" d="M174 836.7H199V848.1"/><path class="w" d="M174 859.4H199V848.1"/>
<path class="l" d="M174 882.1H199V893.5"/><path class="w" d="M174 904.8H199V893.5"/>
<path class="w" d="M199 848.1H209V870.8"/><path class="l" d="M199 893.5H209V870.8"/>
<path class="w" d="M174 927.5H199V938.9"/><path class="l" d="M174 950.2H199V938.9"/>
<path class="l" d="M199 938.9H209V955.9"/><path class="w" d="M174 972.9H209V955.9"/>
<path class="w" d="M209 870.8H219V913.4"/><path class="l" d="M209 955.9H219V913.4"/>
<path class="w" d="M219 737.5H230V825.5"/><path class="l" d="M219 913.4H230V825.5"/>
<path class="w" d="M174 995.6H199V1007"/><path class="l" d="M174 1018.3H199V1007"/>
<path class="w" d="M174 1041H199V1052.4"/><path class="l" d="M174 1063.7H199V1052.4"/>
<path class="w" d="M199 1007H209V1029.7"/><path class="l" d="M199 1052.4H209V1029.7"/>
<path class="w" d="M174 1086.4H199V1097.8"/><path class="l" d="M174 1109.1H199V1097.8"/>
<path class="w" d="M174 1131.8H199V1143.2"/><path class="l" d="M174 1154.5H199V1143.2"/>
<path class="w" d="M199 1097.8H209V1120.5"/><path class="l" d="M199 1143.2H209V1120.5"/>
<path class="w" d="M209 1029.7H219V1075.1"/><path class="l" d="M209 1120.5H219V1075.1"/>
<path class="l" d="M174 1177.2H199V1188.6"/><path class="w" d="M174 1199.9H199V1188.6"/>
<path class="l" d="M174 1222.6H199V1234"/><path class="w" d="M174 1245.3H199V1234"/>
<path class="w" d="M199 1188.6H209V1211.3"/><path class="l" d="M199 1234H209V1211.3"/>
<path class="l" d="M174 1268H199V1279.4"/><path class="w" d="M174 1290.7H199V1279.4"/>
<path class="l" d="M199 1279.4H209V1296.4"/><path class="w" d="M174 1313.4H209V1296.4"/>
<path class="w" d="M209 1211.3H219V1253.9"/><path class="l" d="M209 1296.4H219V1253.9"/>
<path class="l" d="M219 1075.1H230V1164.5"/><path class="w" d="M219 1253.9H230V1164.5"/>
<path class="w" d="M230 825.5H245V983"/><path class="l" d="M230 1164.5H245V983"/>
<path class="l" d="M361 42.2H340V53.6"/><path class="w" d="M361 64.9H340V53.6"/>
<path class="w" d="M361 19.5H328V36.5"/><path class="l" d="M340 53.6H328V36.5"/>
<path class="l" d="M361 87.6H340V99"/><path class="w" d="M361 110.3H340V99"/>
<path class="w" d="M361 133H340V144.4"/><path class="l" d="M361 155.7H340V144.4"/>
<path class="l" d="M340 99H328V121.7"/><path class="w" d="M340 144.4H328V121.7"/>
<path class="w" d="M328 36.5H316V79.1"/><path class="l" d="M328 121.7H316V79.1"/>
<path class="l" d="M361 178.4H340V189.8"/><path class="w" d="M361 201.1H340V189.8"/>
<path class="l" d="M361 223.8H340V235.2"/><path class="w" d="M361 246.5H340V235.2"/>
<path class="w" d="M340 189.8H328V212.5"/><path class="l" d="M340 235.2H328V212.5"/>
<path class="l" d="M361 269.2H340V280.6"/><path class="w" d="M361 291.9H340V280.6"/>
<path class="l" d="M340 280.6H328V297.6"/><path class="w" d="M361 314.6H328V297.6"/>
<path class="l" d="M328 212.5H316V255.1"/><path class="w" d="M328 297.6H316V255.1"/>
<path class="w" d="M316 79.1H304V167.1"/><path class="l" d="M316 255.1H304V167.1"/>
<path class="w" d="M361 337.3H340V348.7"/><path class="l" d="M361 360H340V348.7"/>
<path class="l" d="M361 382.7H340V394.1"/><path class="w" d="M361 405.4H340V394.1"/>
<path class="w" d="M340 348.7H328V371.4"/><path class="l" d="M340 394.1H328V371.4"/>
<path class="w" d="M361 428.1H340V439.5"/><path class="l" d="M361 450.8H340V439.5"/>
<path class="l" d="M361 473.5H340V484.9"/><path class="w" d="M361 496.2H340V484.9"/>
<path class="w" d="M340 439.5H328V462.2"/><path class="l" d="M340 484.9H328V462.2"/>
<path class="w" d="M328 371.4H316V416.8"/><path class="l" d="M328 462.2H316V416.8"/>
<path class="l" d="M361 518.9H340V530.3"/><path class="w" d="M361 541.6H340V530.3"/>
<path class="l" d="M361 564.3H340V575.7"/><path class="w" d="M361 587H340V575.7"/>
<path class="w" d="M340 530.3H328V553"/><path class="l" d="M340 575.7H328V553"/>
<path class="w" d="M361 609.7H340V621.1"/><path class="l" d="M361 632.4H340V621.1"/>
<path class="l" d="M340 621.1H328V638.1"/><path class="w" d="M361 655.1H328V638.1"/>
<path class="w" d="M328 553H316V595.6"/><path class="l" d="M328 638.1H316V595.6"/>
<path class="l" d="M316 416.8H304V506.2"/><path class="w" d="M316 595.6H304V506.2"/>
<path class="w" d="M304 167.1H292V323"/><path class="l" d="M304 506.2H292V323"/>
<path class="l" d="M361 700.5H340V711.9"/><path class="w" d="M361 723.2H340V711.9"/>
<path class="l" d="M361 677.8H328V694.9"/><path class="w" d="M340 711.9H328V694.9"/>
<path class="w" d="M361 745.9H340V757.3"/><path class="l" d="M361 768.6H340V757.3"/>
<path class="l" d="M361 791.3H340V802.7"/><path class="w" d="M361 814H340V802.7"/>
<path class="w" d="M340 757.3H328V780"/><path class="l" d="M340 802.7H328V780"/>
<path class="w" d="M328 694.9H316V737.5"/><path class="l" d="M328 780H316V737.5"/>
<path class="l" d="M361 836.7H340V848.1"/><path class="w" d="M361 859.4H340V848.1"/>
<path class="w" d="M361 882.1H340V893.5"/><path class="l" d="M361 904.8H340V893.5"/>
<path class="l" d="M340 848.1H328V870.8"/><path class="w" d="M340 893.5H328V870.8"/>
<path class="l" d="M361 927.5H340V938.9"/><path class="w" d="M361 950.2H340V938.9"/>
<path class="l" d="M340 938.9H328V955.9"/><path class="w" d="M361 972.9H328V955.9"/>
<path class="l" d="M328 870.8H316V913.4"/><path class="w" d="M328 955.9H316V913.4"/>
<path class="w" d="M316 737.5H304V825.5"/><path class="l" d="M316 913.4H304V825.5"/>
<path class="w" d="M361 995.6H340V1007"/><path class="l" d="M361 1018.3H340V1007"/>
<path class="w" d="M361 1041H340V1052.4"/><path class="l" d="M361 1063.7H340V1052.4"/>
<path class="l" d="M340 1007H328V1029.7"/><path class="w" d="M340 1052.4H328V1029.7"/>
<path class="l" d="M361 1086.4H340V1097.8"/><path class="w" d="M361 1109.1H340V1097.8"/>
<path class="l" d="M361 1131.8H340V1143.2"/><path class="w" d="M361 1154.5H340V1143.2"/>
<path class="w" d="M340 1097.8H328V1120.5"/><path class="l" d="M340 1143.2H328V1120.5"/>
<path class="w" d="M328 1029.7H316V1075.1"/><path class="l" d="M328 1120.5H316V1075.1"/>
<path class="w" d="M361 1177.2H340V1188.6"/><path class="l" d="M361 1199.9H340V1188.6"/>
<path class="l" d="M361 1222.6H340V1234"/><path class="w" d="M361 1245.3H340V1234"/>
<path class="w" d="M340 1188.6H328V1211.3"/><path class="l" d="M340 1234H328V1211.3"/>
<path class="w" d="M361 1268H340V1279.4"/><path class="l" d="M361 1290.7H340V1279.4"/>
<path class="l" d="M340 1279.4H328V1296.4"/><path class="w" d="M361 1313.4H328V1296.4"/>
<path class="l" d="M328 1211.3H316V1253.9"/><path class="w" d="M328 1296.4H316V1253.9"/>
<path class="l" d="M316 1075.1H304V1164.5"/><path class="w" d="M316 1253.9H304V1164.5"/>
<path class="w" d="M304 825.5H292V980"/><path class="l" d="M304 1164.5H292V980"/>
<path class="w" d="M245 317H269V660"/>
<path class="l" d="M245 983H256V657H269"/>
<path class="l" d="M292 323H279V662"/>
<path class="w" d="M292 980H281V662H269"/>
</g>
</g>
</svg>
